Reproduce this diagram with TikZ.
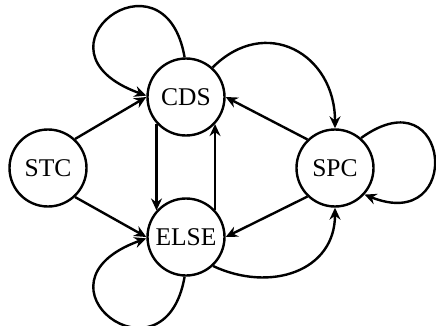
\documentclass[tikz,border=0pt]{standalone}
\usepackage{fontspec}
\setmainfont{Liberation Serif}
\usetikzlibrary{arrows.meta}
\begin{document}
\begin{tikzpicture}[x=1pt,y=1pt,
  st/.style={circle,draw,line width=2.4pt,minimum size=77pt,inner sep=0pt,font=\fontsize{25.5}{30}\selectfont},
  ed/.style={line width=2.4pt,-{Stealth[length=12pt,width=11pt,inset=4pt]}}]
\useasboundingbox (0,0) rectangle (436,-326);
\node[st] (STC) at (48,-168) {STC};
\node[st] (CDS) at (186,-97) {CDS};
\node[st] (ELSE) at (186,-237) {ELSE};
\node[st] (SPC) at (335,-168) {SPC};
\draw[ed] (STC.47) -- (CDS.180);
\draw[ed] (STC.-47) -- (ELSE.180);
\draw[ed] (SPC.134) -- (CDS.0);
\draw[ed] (SPC.-134) -- (ELSE.0);
\draw[ed] (CDS.-138) -- (ELSE.138);
\draw[ed] (ELSE.43) -- (CDS.-43);
\draw[ed] (CDS.48) to[out=45,in=90,looseness=1.4] (SPC.90);
\draw[ed] (ELSE.-47) to[out=-25,in=-90,looseness=1.2] (SPC.-90);
\draw[ed] (CDS.92) .. controls +(-20,115) and +(-125,45) .. (CDS.178);
\draw[ed] (ELSE.-92) .. controls +(-20,-115) and +(-125,-45) .. (ELSE.182);
\draw[ed] (SPC.49) .. controls +(90,65) and +(100,-40) .. (SPC.-42);
\end{tikzpicture}
\end{document}
